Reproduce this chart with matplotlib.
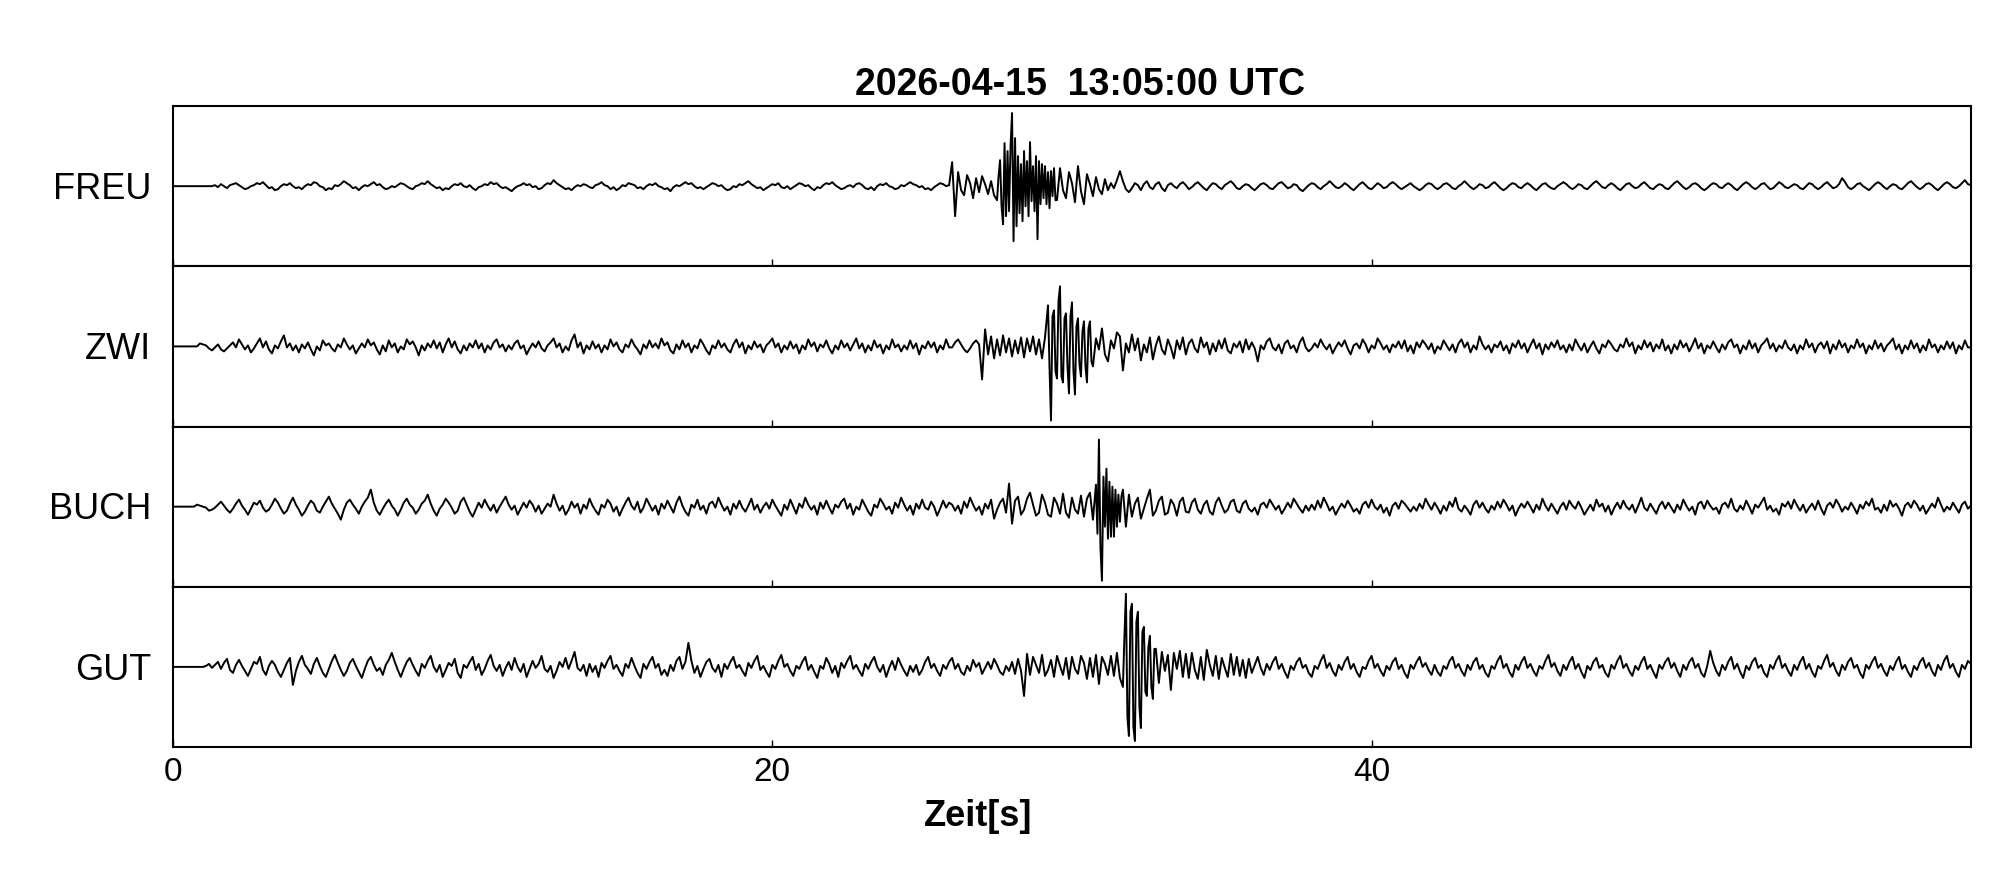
import numpy as np
import matplotlib
matplotlib.use("Agg")
import matplotlib.pyplot as plt

plt.rcParams['font.family'] = ['Liberation Sans', 'DejaVu Sans']

# ---------------- data ----------------
title = "2026-04-15  13:05:00 UTC"
xlabel = "Zeit[s]"
stations = ["FREU", "ZWI", "BUCH", "GUT"]
xticks = [0, 20, 40]
dt = 0.1         # main sample interval [s]
dt_burst = 0.05  # finer readings inside the strongest phase

# amplitudes (relative units), one sample every dt seconds starting at 0 s
freu = [
    0,0,0,0,0,0,0,0,0,0,0,0,0,0,1,-1,2,0,-2,1,
    2,3,1,-1,-3,-2,0,1,3,2,4,1,-2,-1,-4,-3,0,2,1,3,
    0,-2,-1,-3,0,2,1,4,3,0,-1,-4,-2,-3,1,0,2,5,3,1,
    -2,-1,-4,-1,1,0,2,4,1,2,-1,-3,-2,0,-1,1,3,2,0,-2,
    -3,0,1,3,2,5,2,0,-2,-1,-4,-2,-3,0,2,1,3,0,-1,1,
    -2,-4,-1,0,2,1,4,2,3,0,-2,-1,-3,-5,-2,0,1,3,1,2,
    -1,0,-3,-2,1,3,2,6,3,1,-1,-3,-2,-4,-1,1,0,2,1,-1,
    -2,1,2,4,1,0,-3,-1,-4,-2,1,0,3,2,1,-2,-1,-3,0,2,
    1,3,0,-1,-3,-2,-5,-1,1,0,2,4,2,3,0,-2,-1,-3,-1,1,
    3,2,0,1,-2,-4,-3,0,-1,2,1,3,5,2,0,-2,-1,-4,-2,0,
    2,1,3,-1,-2,0,-3,-1,1,3,2,0,1,-2,-4,-1,-2,1,3,2,
    4,1,-1,-3,-2,0,1,-1,2,3,1,-2,-3,-1,-4,0,2,1,3,0,
    -1,-3,-2,1,0,2,4,2,1,-1,0,-3,-2,-4,-1,1,3,2,0,1,
    24,-30,14,-4,-9,11,3,-12,8,-6,10,2,-8,5,-9,-14,26,-38,43,-30,
    73,-55,48,-27,35,-35,44,-20,30,-53,25,-18,20,-22,15,-14,18,-4,-12,14,
    3,-16,20,-5,-18,12,2,-10,9,-3,-8,7,-4,3,-2,6,15,5,-3,-6,
    -2,3,1,-4,2,5,-1,-3,2,4,-2,-5,1,3,0,-2,2,4,1,-3,
    -1,2,4,1,-2,-4,0,3,2,-1,-3,1,3,5,2,-2,-3,0,2,1,
    -2,-4,-1,2,3,1,-2,-3,0,3,4,1,-2,-1,2,1,-3,-5,-2,1,
    3,2,-1,-3,0,2,5,2,-1,-2,0,3,1,-2,-4,-1,2,4,1,-2,
    -3,0,3,1,-2,-1,2,4,2,-1,-3,-1,1,3,0,-2,-4,-2,1,3,
    2,-1,-3,-1,2,3,1,-2,-3,0,2,5,2,-1,-3,-1,2,1,-2,-1,
    2,4,1,-2,-4,-2,1,3,2,-1,-2,1,3,1,-2,-4,-1,2,3,0,
    -2,-3,0,2,4,2,-1,-3,-1,2,1,-2,-3,0,3,5,2,-1,-2,1,
    3,1,-2,-4,-1,2,3,0,-2,-1,2,4,1,-2,-3,0,2,1,-2,-3,
    0,3,5,2,-1,-3,-1,2,3,1,-2,-4,-2,1,3,2,-1,-2,1,3,
    1,-2,-4,-1,2,4,2,-1,-3,-1,2,3,0,-3,-2,1,4,2,-1,-2,
    0,2,1,-2,-3,0,3,2,-1,-3,-1,2,4,1,-2,-1,2,8,4,-1,
    -3,-1,2,3,0,-2,-4,-1,2,4,2,-1,-3,0,2,1,-2,-3,0,3,
    5,2,-1,-3,-1,2,3,1,-2,-4,-1,2,4,2,-1,-2,0,3,6,2,
    1,
]
freu_burst_start = 27.5
freu_burst = [
    -14,10,26,-20,-38,43,-30,35,-25,40,73,-55,48,-40,30,-27,22,-35,35,-20,
    25,-30,44,-15,20,-25,30,-53,25,-18,22,-12,20,-18,14,-22,15,-10,18,-14,
]

zwi = [
    0,0,0,0,0,0,0,0,0,3,2,1,-2,-4,-1,2,-3,-5,-2,1,
    4,-1,7,2,-3,1,-6,-2,3,8,-1,5,-3,-7,1,-2,5,11,-1,3,
    -4,1,-6,2,-2,4,-3,-9,0,-4,6,1,3,-2,-5,2,-1,8,2,-3,
    1,-7,-2,3,-1,7,1,4,-3,-8,1,-5,6,-1,3,-6,0,-3,7,2,
    5,-1,-9,1,-4,3,-1,6,-2,4,-6,2,8,-1,5,-3,-7,1,-4,3,
    -1,6,-2,3,-6,1,-3,4,7,-1,2,-5,1,-3,3,6,-2,1,-8,-2,
    3,-1,5,-2,-5,1,4,8,-1,3,-6,0,-4,6,12,-1,4,-7,1,-3,
    5,-2,2,-6,1,-3,7,0,4,-3,-6,2,-1,7,1,-3,-8,2,-2,6,
    -1,3,-2,8,1,4,-4,-7,2,-3,6,-1,3,-6,1,-2,7,2,-4,-8,
    1,-2,6,-1,3,-3,-6,2,7,-1,4,-7,1,-3,5,-1,2,-6,1,4,
    8,-1,3,-6,1,-3,5,-2,2,-7,1,-3,7,0,4,-5,2,-1,6,-2,
    -7,1,-3,6,-1,3,-4,2,8,-2,3,-6,1,-4,6,-1,2,-7,1,-3,
    7,-1,2,-5,1,-3,6,-2,3,-8,1,-2,5,-1,4,-6,1,-3,7,-1,
    -1,4,7,2,-3,-6,-2,3,6,2,-33,17,-8,10,-12,7,-9,11,-6,8,
    -10,6,-7,9,-11,8,-5,10,-8,7,-12,9,41,-74,36,-32,60,-36,33,-47,
    44,-48,28,-30,25,-36,25,-20,8,-3,18,-8,-15,6,-2,14,10,-24,3,-6,
    12,-4,8,-14,2,-6,9,-13,1,10,-3,-8,7,-1,-12,6,-3,9,-8,3,
    7,-2,-6,9,-1,4,-8,3,-5,6,-2,8,-4,-7,3,-1,5,-6,7,-3,
    4,-2,-15,1,-3,5,8,-1,-4,2,-7,3,6,-2,1,-6,4,9,-1,-5,
    -2,3,-1,7,1,-3,2,-7,-1,4,0,6,-2,-8,1,3,-2,7,2,-6,
    1,-2,8,3,-3,1,-6,2,-1,5,-2,6,-5,1,-7,4,-1,6,2,-3,
    3,-7,0,-3,6,1,-4,2,-6,3,7,-1,4,-6,1,-3,10,2,-3,1,
    -6,2,-1,5,-4,1,-7,3,-1,6,-2,3,-6,1,7,-2,3,-8,2,-3,
    4,-1,6,-3,1,-6,2,-4,7,1,-4,3,-6,0,5,-2,-7,2,-1,6,
    2,-3,-5,2,-1,8,0,4,-7,1,-3,6,-1,4,-5,2,-2,7,-4,1,
    -7,2,-3,6,-1,3,-5,1,8,-2,3,-7,1,-2,5,-1,-6,2,-3,4,
    7,-1,2,-7,1,-3,6,-2,3,-6,1,4,8,-2,3,-5,1,-2,6,-1,
    -4,2,-7,1,-3,7,-1,3,-6,1,4,-2,5,-7,2,-3,6,-1,3,-6,
    1,-2,7,-1,3,-7,1,-3,6,-2,3,-5,1,4,8,-3,2,-7,1,-3,
    6,-2,3,-6,1,-4,7,-1,2,-6,1,-3,5,-2,4,-7,1,-3,6,-1,
    -1,
]
zwi_burst_start = 29.2
zwi_burst = [
    41,-20,-74,30,36,-25,-32,45,60,-30,-36,28,33,-20,-47,30,44,-25,-48,20,
    28,-18,-30,15,25,-20,-36,18,25,-15,
]

buch = [
    0,0,0,0,0,0,0,0,2,1,0,-1,-4,-3,-1,2,5,1,-3,-6,
    -2,3,7,1,-3,-8,-2,4,2,6,-1,-5,-3,2,8,4,-2,-7,-4,3,
    9,2,-3,-9,-5,1,6,3,-4,-6,0,5,10,3,-2,-7,-13,-3,4,7,
    2,-2,-7,0,5,9,17,4,-4,-8,-2,3,7,1,-3,-9,-3,4,8,2,
    -1,-7,-3,3,6,12,3,-4,-9,-2,2,8,4,-1,-7,-4,5,9,2,-5,
    -10,-3,4,-1,7,1,-4,2,-6,0,5,10,2,-3,1,-8,-2,4,-1,6,
    2,-5,1,-7,-2,3,0,12,3,-4,1,-8,-3,5,-1,3,-7,2,-2,8,
    1,-4,-8,2,-1,7,3,-5,0,-9,-2,4,9,1,-3,5,-6,-1,8,2,
    -4,1,-8,3,-2,6,0,-6,4,10,1,-5,-9,2,-1,7,-3,1,-7,3,
    5,-1,9,2,-4,0,-8,3,-2,6,-1,-5,1,8,-3,2,-6,0,4,-2,
    7,1,-4,-9,2,-3,7,0,-7,3,-1,9,2,-3,1,-8,4,-2,6,-1,
    -7,2,-1,5,8,-2,3,-8,0,-3,7,1,-5,-9,2,-1,8,3,-3,0,
    -7,4,-1,9,2,-4,1,-8,3,-2,7,-1,-3,5,0,-9,-2,6,-1,4,
    2,-4,1,-7,5,-1,9,2,-4,0,-8,3,-2,7,-12,-3,4,8,-6,23,
    -17,6,10,-8,-3,8,14,2,-9,-6,12,4,-8,-10,9,3,-7,13,-6,-11,
    9,-3,-7,11,-10,8,14,-13,22,67,-74,30,-27,38,-32,20,-30,17,-20,12,
    -10,3,9,-12,-2,8,17,-9,-4,6,10,-8,-6,7,2,-9,5,9,-5,-6,
    4,8,-3,-7,2,6,-5,-8,4,9,1,-6,-3,5,7,-4,-6,3,6,-2,
    -5,-1,-8,2,4,-1,7,2,-3,1,-7,-2,4,-1,8,3,-2,-6,1,-4,
    2,-3,6,-1,9,3,-4,0,-8,-2,3,-1,6,1,-5,-2,-7,2,5,-1,
    7,0,-3,2,-6,-1,-9,1,4,-2,6,3,-1,-5,0,-4,3,-2,8,2,
    -3,4,-1,-7,1,-4,5,0,9,-2,-5,1,-3,-8,2,6,-1,4,-2,-6,
    1,-3,5,-1,7,2,-4,1,-9,-2,3,-1,5,0,-6,2,-3,8,1,-4,
    3,-2,-7,0,4,-3,6,1,-2,5,-1,-8,-3,2,-4,7,0,3,-5,1,
    -8,-1,4,-2,6,0,-3,2,-6,1,9,-1,-4,3,-2,-7,1,5,-2,4,
    -1,-6,2,-3,7,1,-4,0,-8,3,5,-2,6,1,-3,-1,-7,2,4,-1,
    8,-2,-5,1,-3,6,0,-7,2,-1,4,9,-3,1,-5,-2,-8,3,0,5,
    -2,7,1,-4,2,-6,-1,3,-3,6,-2,-8,1,4,-1,7,2,-5,0,-3,
    4,-1,-7,2,-2,5,1,8,-3,-1,-6,2,-4,6,0,3,-2,-9,1,4,
    -1,6,2,-4,1,-7,-2,3,-1,9,2,-5,0,-3,4,-1,-6,2,5,-2,
    1,
]
buch_burst_start = 30.8
buch_burst = [
    22,-27,67,-40,-74,30,-20,38,-32,25,-30,20,-30,17,-20,12,-15,10,
]

gut = [
    0,0,0,0,0,0,0,0,0,0,0,1,3,-1,2,5,-2,4,8,-3,
    -6,2,7,1,-4,-9,-2,5,3,10,-3,-8,1,6,2,-5,-10,-3,4,9,
    -18,-4,5,11,2,-2,-7,3,9,1,-6,-10,-2,6,12,4,-3,-9,-4,4,
    8,1,-5,-11,-2,6,10,2,-4,-1,-8,2,7,14,5,-3,-10,-2,5,9,
    2,-4,-9,3,-1,6,11,0,-5,2,-10,-3,4,1,8,-6,-11,2,-1,5,
    10,-3,3,-8,-2,6,12,1,-4,2,-9,-1,5,-3,9,0,-5,3,-10,-2,
    6,-1,3,11,-2,-5,1,-11,-4,5,0,9,-2,6,15,-1,-4,2,-9,3,
    -5,1,-10,4,-1,6,11,-2,2,-4,-9,3,-1,9,1,-6,-11,3,-2,5,
    10,-1,3,-8,-3,-9,2,-4,6,10,-2,5,24,6,-6,1,-10,-2,5,8,
    -1,-5,2,-10,3,-2,5,10,-1,2,-4,-9,4,-1,6,11,-3,1,-5,-10,
    2,-2,6,12,0,3,-4,-9,1,-2,5,10,-3,2,-5,-11,1,-2,9,3,
    -6,1,-10,4,-1,6,11,-2,2,-4,-9,3,-2,5,10,0,-5,2,-10,-1,
    6,-3,9,2,-4,-9,1,-5,2,-8,-3,5,10,-1,3,-4,-9,2,-2,5,
    9,-2,3,-5,-8,1,-4,7,0,4,-7,-1,5,-2,8,2,-5,-8,1,-4,
    5,-7,8,-4,-29,13,-8,10,2,-6,12,-9,-3,7,-10,11,1,-8,9,-12,
    10,-2,-7,11,4,-12,9,-10,12,-17,10,3,-8,11,-9,14,-11,-20,73,-69,
    63,-74,55,-61,40,-29,31,-32,18,-16,15,-4,12,-23,14,-2,16,-10,13,-11,
    14,-3,-12,10,-13,17,2,-9,11,-12,9,-1,-10,13,-8,10,-9,7,-11,8,
    -6,2,10,-1,-8,3,-3,5,10,-2,3,-5,-11,1,-3,5,9,-1,2,-6,
    -10,1,-2,6,12,-1,4,-4,-9,2,-3,5,10,-2,3,-5,-10,0,-2,6,
    11,-1,3,-4,-9,1,-3,5,9,-2,2,-6,-11,2,-2,5,10,0,4,-3,
    -8,2,-5,-9,1,-2,6,10,-1,3,-4,-9,2,-3,5,9,-2,2,-6,-10,
    1,-2,6,11,-1,3,-5,-10,2,-3,5,10,-1,3,-4,-9,1,-2,6,12,
    0,4,-4,-9,2,-3,5,10,-2,3,-5,-11,1,-3,5,9,-1,2,-6,-10,
    2,-2,6,11,-1,3,-4,-9,1,-3,5,10,-2,2,-5,-11,2,-2,5,9,
    -1,4,-4,-10,2,-3,5,9,-1,3,-6,-10,1,16,4,-4,-9,2,-3,5,
    10,-2,3,-5,-11,1,-3,5,9,-1,2,-6,-10,2,-2,6,11,-1,3,-4,
    -9,2,-3,5,10,-2,3,-5,-10,1,-2,6,12,0,4,-4,-9,2,-3,5,
    9,-1,2,-6,-11,2,-2,5,10,-1,3,-4,-9,1,-3,5,10,-2,2,-5,
    -10,1,-3,5,9,-1,4,-4,-9,2,-3,6,11,-1,3,-5,-10,2,-2,6,
    3,
]
gut_burst_start = 31.7
gut_burst = [
    -20,30,73,-50,-69,55,63,-60,-74,45,55,-40,-61,35,40,-25,-29,20,31,-20,
    -32,18,
]

traces = [freu, zwi, buch, gut]
bursts = [freu_burst, zwi_burst, buch_burst, gut_burst]
burst_starts = [freu_burst_start, zwi_burst_start, buch_burst_start, gut_burst_start]


def assemble(main, burst, t0):
    y = np.asarray(main, dtype=float)
    t = np.arange(len(y)) * dt
    yb = np.asarray(burst, dtype=float)
    tb = t0 + np.arange(len(yb)) * dt_burst
    keep = (t < tb[0] - 1e-9) | (t > tb[-1] + 1e-9)
    tt = np.concatenate([t[keep], tb])
    yy = np.concatenate([y[keep], yb])
    order = np.argsort(tt, kind="stable")
    return tt[order], yy[order]


# ---------------- figure ----------------
fig, axes = plt.subplots(4, 1, figsize=(20.05, 8.8), dpi=100, sharex=True)
fig.subplots_adjust(left=0.0863, right=0.983, top=0.8795, bottom=0.1511, hspace=0)

for ax, name, tr, br, b0 in zip(axes, stations, traces, bursts, burst_starts):
    t, y = assemble(tr, br, b0)
    ax.plot(t, y, color="black", lw=1.4)
    ax.set_xlim(0, 60)
    ax.set_ylim(-80, 80)
    ax.set_yticks([])
    ax.set_xticks(xticks)
    ax.tick_params(axis="x", direction="in", length=5, width=1.0,
                   top=False, labelsize=24, pad=7)
    for s in ax.spines.values():
        s.set_linewidth(1.5)
    ax.text(-0.0122, 0.42, name, transform=ax.transAxes,
            ha="right", va="baseline", fontsize=26)

for ax in axes[:-1]:
    ax.tick_params(labelbottom=False)

fig.text(0.5387, 0.892, title, ha="center", va="baseline",
         fontsize=27, fontweight="bold")
fig.text(0.4878, 0.0614, xlabel, ha="center", va="baseline",
         fontsize=26, fontweight="bold")

fig.savefig("out.png", dpi=100)
